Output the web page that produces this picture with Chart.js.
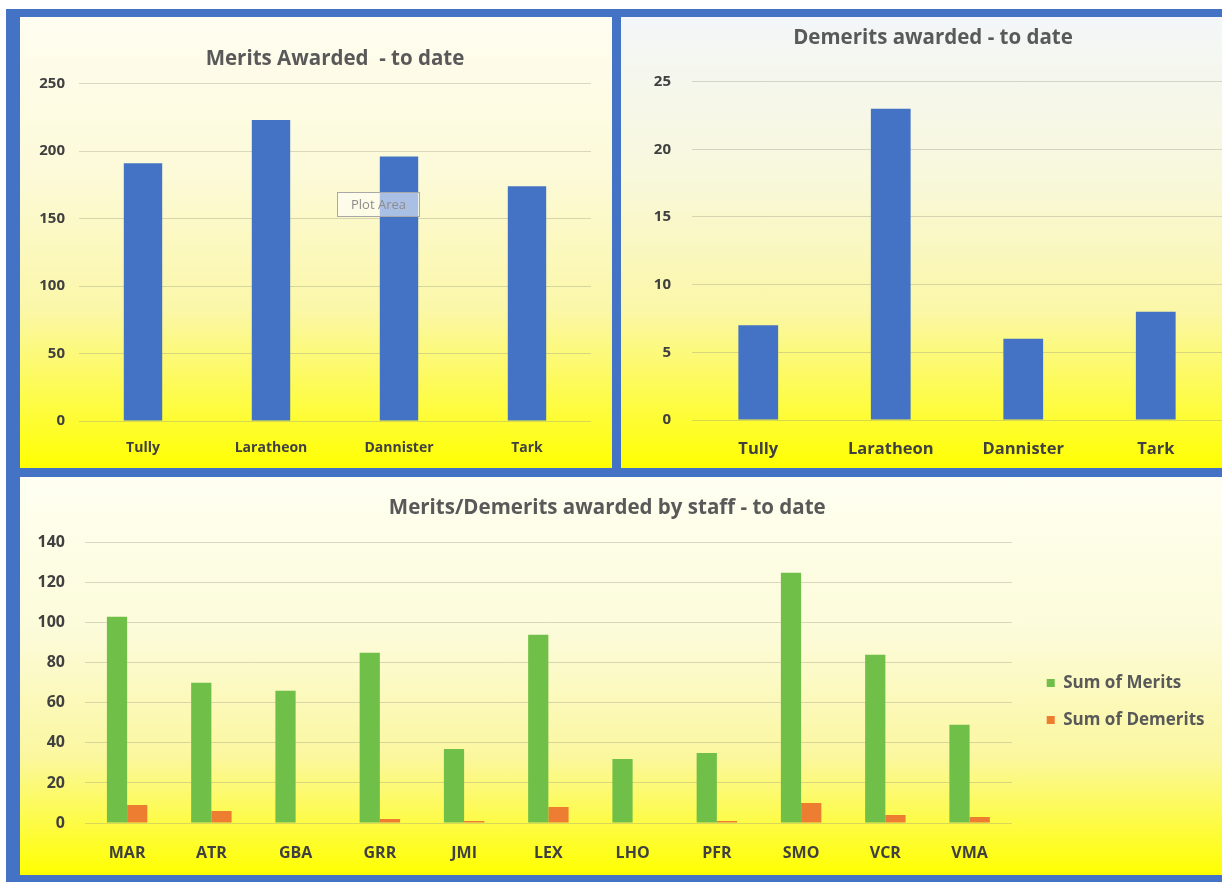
<!DOCTYPE html>
<html>
<head>
<meta charset="utf-8">
<script src="https://cdn.jsdelivr.net/npm/chart.js@4"></script>
<style>
    body { margin: 0; width: 1222px; height: 882px; background: #fff; position: relative; overflow: hidden; font-family: 'Open Sans', sans-serif; }
    #frame { position: absolute; left: 6px; top: 9px; width: 1216px; height: 873px; background: #4472c4; }
    .panel { position: absolute; }
    .panel canvas { position: absolute; left: 0; top: 0; }
    #p1 { left: 20px; top: 17px; width: 592px; height: 451px;
          background: linear-gradient(to bottom, #fffdf0 0%, #fcfad8 35%, #fbf7a8 65%, #ffff00 100%); }
    #p2 { left: 621px; top: 17px; width: 601px; height: 451px;
          background: linear-gradient(to bottom, #f3f6f8 0%, #f8f8dc 35%, #fbf7a8 65%, #ffff00 100%); }
    #p3 { left: 20px; top: 477px; width: 1202px; height: 398px;
          background: linear-gradient(to bottom, #fffff2 0%, #fcfbd8 40%, #fbf7a0 70%, #ffff00 100%); }
    #hover { position: absolute; left: 337px; top: 192px; width: 83px; height: 25px; box-sizing: border-box;
             border: 1px solid #a8a8a8; background: rgba(255,255,255,0.55); color: #8c8c8c;
             font-size: 13px; line-height: 23px; text-align: center; }
</style>
</head>
<body>
<div id="frame"></div>
<div class="panel" id="p1"><canvas id="merits" width="592" height="451"></canvas></div>
<div class="panel" id="p2"><canvas id="demerits" width="601" height="451"></canvas></div>
<div class="panel" id="p3"><canvas id="staff" width="1202" height="398"></canvas></div>
<div id="hover">Plot Area</div>
<script>
/* global Chart */

var houses = ["Tully", "Laratheon", "Dannister", "Tark"];
var houseMerits = [191, 223, 196, 174];
var houseDemerits = [7, 23, 6, 8];

var staff = ["MAR", "ATR", "GBA", "GRR", "JMI", "LEX", "LHO", "PFR", "SMO", "VCR", "VMA"];
var staffMerits = [103, 70, 66, 85, 37, 94, 32, 35, 125, 84, 49];
var staffDemerits = [9, 6, 0, 2, 1, 8, 0, 1, 10, 4, 3];

var blue = "#4472c4";
var green = "#70bf48";
var orange = "#ed7d31";
var textGrey = "#595959";
var tickGrey = "#404040";
var gridColor = "rgba(150,150,130,0.35)";

Chart.defaults.font.family = "'Open Sans', 'Liberation Sans', sans-serif";
Chart.defaults.animation = false;
Chart.defaults.responsive = false;
Chart.defaults.devicePixelRatio = 1;

// y axis with fixed width, so plot areas sit where the original's do
function valueAxis(max, step, width, pad, size) {
    return {
        min: 0, max: max,
        ticks: { stepSize: step, padding: pad, color: tickGrey, font: { size: size, weight: "bold" } },
        grid: { color: gridColor, drawTicks: false },
        border: { display: false },
        afterFit: function (s) { s.width = width; }
    };
}

function labelAxis(height, pad, size) {
    return {
        ticks: { padding: pad, color: tickGrey, font: { size: size, weight: "bold" } },
        grid: { display: false, drawTicks: false },
        border: { display: false },
        afterFit: function (s) { s.height = height; }
    };
}

function title(text, top, bottom, fullSize) {
    return {
        display: true, text: text, color: textGrey, fullSize: fullSize,
        font: { size: 20.5, weight: "bold" },
        padding: { top: top, bottom: bottom }
    };
}

new Chart(document.getElementById("merits"), {
    type: "bar",
    data: {
        labels: houses,
        datasets: [{ label: "Merits", data: houseMerits, backgroundColor: blue,
                     barPercentage: 0.3, categoryPercentage: 1 }]
    },
    options: {
        layout: { padding: { left: 8, right: 21, top: 0, bottom: 0 } },
        plugins: {
            legend: { display: false },
            tooltip: { enabled: false },
            title: title("Merits Awarded  - to date", 30, 12, false)
        },
        scales: {
            x: labelAxis(47, 19, 14),
            y: valueAxis(250, 50, 51, 14, 15)
        }
    }
});

new Chart(document.getElementById("demerits"), {
    type: "bar",
    data: {
        labels: houses,
        datasets: [{ label: "Demerits", data: houseDemerits, backgroundColor: blue,
                     barPercentage: 0.3, categoryPercentage: 1 }]
    },
    options: {
        // uneven padding pushes the title a little right, as in the original
        layout: { padding: { left: 22, right: -1, top: 0, bottom: 0 } },
        plugins: {
            legend: { display: false },
            tooltip: { enabled: false },
            title: title("Demerits awarded - to date", 9, 31, true)
        },
        scales: {
            x: labelAxis(48, 19, 16.5),
            y: valueAxis(25, 5, 49, 21, 15)
        }
    }
});

// empty axis = gap between plot and legend
var spacer = {
    position: "right", display: true,
    ticks: { display: false }, grid: { display: false }, border: { display: false },
    afterFit: function (s) { s.width = 15; }
};

new Chart(document.getElementById("staff"), {
    type: "bar",
    data: {
        labels: staff,
        datasets: [
            { label: "Sum of Merits", data: staffMerits, backgroundColor: green,
              barPercentage: 1, categoryPercentage: 0.48 },
            { label: "Sum of Demerits", data: staffDemerits, backgroundColor: orange,
              barPercentage: 1, categoryPercentage: 0.48 }
        ]
    },
    options: {
        layout: { padding: { left: -20, right: 7.5, top: 0, bottom: 0 } },
        plugins: {
            tooltip: { enabled: false },
            title: title("Merits/Demerits awarded by staff - to date", 19, 22, true),
            legend: {
                position: "right",
                title: { display: true, text: "", font: { size: 1 }, padding: { top: 50, bottom: 0 } },
                labels: { boxWidth: 8, boxHeight: 8, padding: 20, color: textGrey,
                          font: { size: 17, weight: "bold" } }
            }
        },
        scales: {
            x: labelAxis(52, 21, 16),
            y: valueAxis(140, 20, 85, 20, 16),
            spacer: spacer
        }
    }
});
</script>
</body>
</html>
